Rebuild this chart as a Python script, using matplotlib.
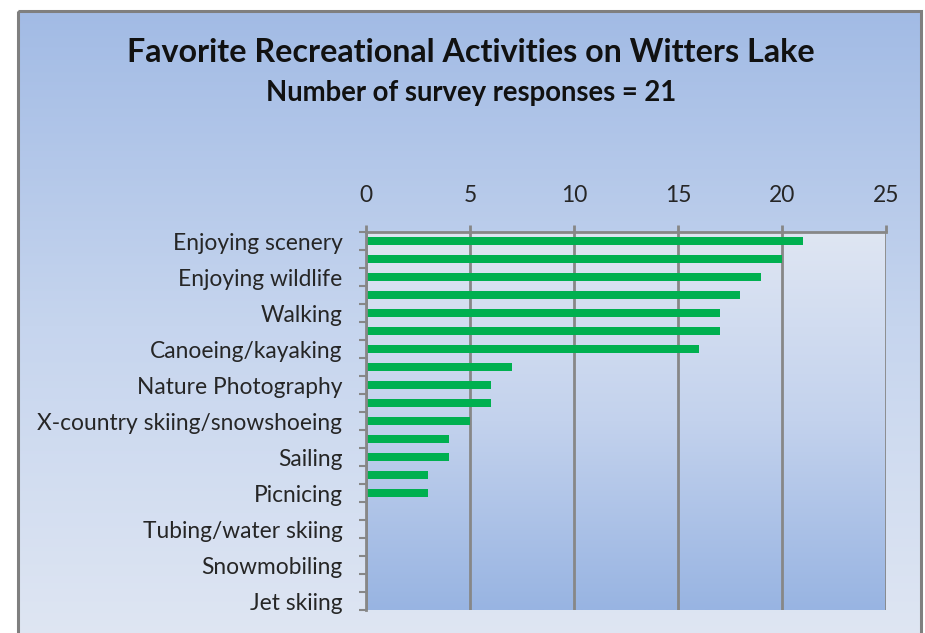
import numpy as np
import matplotlib
matplotlib.use("Agg")
import matplotlib.pyplot as plt
from matplotlib.patches import Rectangle
from matplotlib.colors import LinearSegmentedColormap

# Survey data: activities ordered from most to least mentioned
categories = [
    "Enjoying scenery", "", "Enjoying wildlife", "", "Walking", "",
    "Canoeing/kayaking", "", "Nature Photography", "",
    "X-country skiing/snowshoeing", "", "Sailing", "", "Picnicing", "",
    "Tubing/water skiing", "", "Snowmobiling", "", "Jet skiing",
]
responses = [21, 20, 19, 18, 17, 17, 16, 7, 6, 6, 5, 4, 4, 3, 3,
             0, 0, 0, 0, 0, 0]
x_ticks = [0, 5, 10, 15, 20, 25]

title = "Favorite Recreational Activities on Witters Lake"
subtitle = "Number of survey responses = 21"

W, H = 925, 633
fig = plt.figure(figsize=(W / 100, H / 100), dpi=100)
fig.patch.set_facecolor("white")

# Chart-area background with vertical gradient and grey frame
bg = fig.add_axes([0, 0, 1, 1])
bg.set_xlim(0, W)
bg.set_ylim(H, 0)
bg.axis("off")
chart_cmap = LinearSegmentedColormap.from_list(
    "chart", ["#a2bbe5", "#c6d5ee", "#dfe6f3"])
grad = np.linspace(0, 1, 256).reshape(-1, 1)
bg.imshow(grad, cmap=chart_cmap, aspect="auto",
          extent=[18, 921, 640, 11], zorder=0)
bg.add_patch(Rectangle((18, 11), 903, 640, fill=False,
                       edgecolor="#7f7f7f", linewidth=2.2, zorder=1))

font = "Lato"
bg.text(471, 53, title, ha="center", va="center", fontsize=23.2,
        fontweight="bold", family=font, color="#111111")
bg.text(471, 93, subtitle, ha="center", va="center", fontsize=19.8,
        fontweight="bold", family=font, color="#111111")

# Plot area
left, right, top, bottom = 366, 886, 232, 610
ax = fig.add_axes([left / W, 1 - bottom / H, (right - left) / W,
                   (bottom - top) / H])
ax.set_facecolor("none")
n = len(categories)
ypos = np.arange(n)

plot_cmap = LinearSegmentedColormap.from_list(
    "plot", ["#dfe6f3", "#c3d2ed", "#98b4e2"])
ax.imshow(grad, cmap=plot_cmap, aspect="auto",
          extent=[0, 25, n - 0.5, -0.5], zorder=0)

ax.barh(ypos, responses, height=0.4, color="#00b050", zorder=3)

ax.set_xlim(0, 25)
ax.set_ylim(n - 0.5, -0.5)

grid_col = "#878787"
ax.xaxis.tick_top()
ax.set_xticks(x_ticks)
ax.set_xticklabels([str(t) for t in x_ticks])
for t in x_ticks:
    ax.axvline(t, color=grid_col, linewidth=2, zorder=2)
ax.tick_params(axis="x", which="major", length=5, width=2,
               color=grid_col, pad=14, labelsize=16.4, labelcolor="#262626")

ax.set_yticks(ypos)
ax.set_yticklabels(categories)
ax.set_yticks(np.arange(n + 1) - 0.5, minor=True)
ax.tick_params(axis="y", which="major", length=0, pad=17,
               labelsize=16.4, labelcolor="#262626")
ax.tick_params(axis="y", which="minor", length=5, width=1.5,
               color=grid_col)
for lbl in ax.get_xticklabels() + ax.get_yticklabels():
    lbl.set_family(font)

for side in ("bottom", "right"):
    ax.spines[side].set_visible(False)
for side in ("top", "left"):
    ax.spines[side].set_color(grid_col)
    ax.spines[side].set_linewidth(2)
    ax.spines[side].set_zorder(4)

fig.savefig("out.png", dpi=100, facecolor=fig.get_facecolor())
